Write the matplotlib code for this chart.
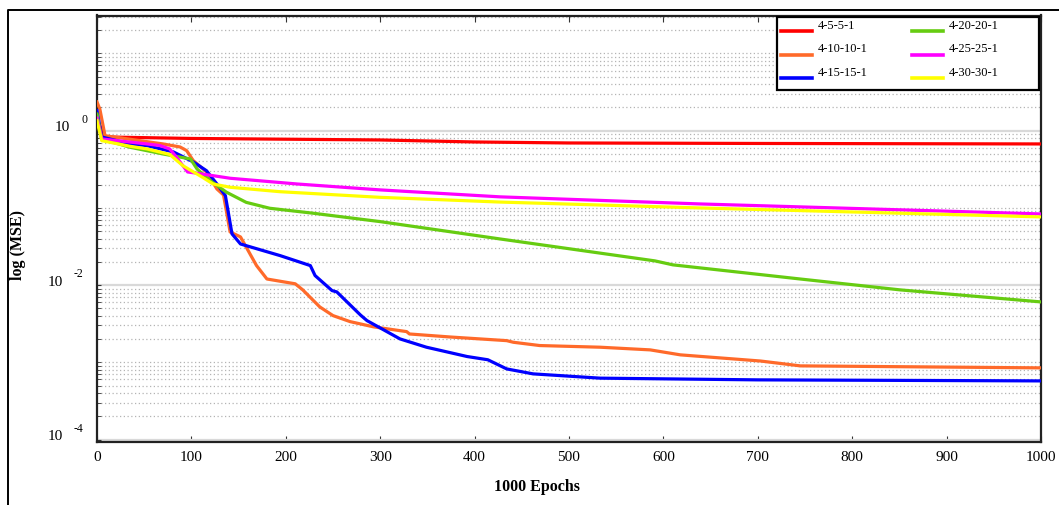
import matplotlib
matplotlib.use("Agg")
import matplotlib.pyplot as plt
from matplotlib.ticker import LogLocator, NullFormatter, MultipleLocator
from matplotlib.lines import Line2D
from matplotlib.patches import Rectangle
import numpy as np

# ---------------- data ----------------
labels = ["4-5-5-1", "4-10-10-1", "4-15-15-1", "4-20-20-1", "4-25-25-1", "4-30-30-1"]
colors = ["#ff0000", "#ff6a2a", "#0000ff", "#66cc11", "#ff00ff", "#ffff00"]

ep_551 = [0, 8, 100, 300, 400, 500, 700, 1000]
mse_551 = [1.42, 0.829, 0.793, 0.758, 0.714, 0.693, 0.683, 0.673]

ep_10101 = [0, 3, 8.5, 70, 88, 95, 102, 116, 127, 134, 141, 152, 169, 180, 210, 218,
            236, 250, 268, 293, 328, 331, 374, 434, 441, 469, 533, 586, 618, 703, 745, 1000]
mse_10101 = [2.35, 1.91, 0.861, 0.673, 0.615, 0.551, 0.409, 0.292, 0.176, 0.147, 0.0488,
             0.0421, 0.0179, 0.0120, 0.0104, 0.00867, 0.00522, 0.00403, 0.00337, 0.00288,
             0.00250, 0.00233, 0.00213, 0.00191, 0.00182, 0.00165, 0.00157, 0.00145,
             0.00125, 0.00104, 0.000900, 0.000848]

ep_15151 = [0, 5, 35, 53, 81, 102, 116, 127, 136, 139, 143, 152, 194, 226, 231, 249, 254,
            279, 286, 321, 349, 392, 414, 434, 462, 533, 700, 1000]
mse_15151 = [1.82, 0.829, 0.673, 0.640, 0.530, 0.394, 0.303, 0.204, 0.144, 0.0887, 0.0461,
             0.0341, 0.0241, 0.0179, 0.0133, 0.00849, 0.00817, 0.00411, 0.00347, 0.00201,
             0.00157, 0.00119, 0.00108, 0.000822, 0.000709, 0.000624, 0.000593, 0.000575]

ep_20201 = [0, 5, 35, 70, 99, 106, 120, 137, 158, 183, 229, 300, 427, 591, 610, 745, 851, 1000]
mse_20201 = [1.64, 0.781, 0.610, 0.499, 0.430, 0.319, 0.225, 0.160, 0.118, 0.0989, 0.0853,
             0.0664, 0.0396, 0.0206, 0.0183, 0.0120, 0.00867, 0.00606]

ep_25251 = [0, 5, 53, 67, 77, 84, 96, 106, 141, 212, 300, 427, 639, 1000]
mse_25251 = [1.45, 0.781, 0.673, 0.640, 0.580, 0.457, 0.292, 0.281, 0.242, 0.204, 0.171,
             0.139, 0.1125, 0.0835]

ep_30301 = [0, 5, 35, 53, 77, 91, 109, 123, 141, 194, 300, 427, 639, 1000]
mse_30301 = [1.35, 0.742, 0.628, 0.580, 0.492, 0.352, 0.261, 0.204, 0.185, 0.162, 0.137,
             0.119, 0.0998, 0.0764]

series = [(ep_551, mse_551), (ep_10101, mse_10101), (ep_15151, mse_15151),
          (ep_20201, mse_20201), (ep_25251, mse_25251), (ep_30301, mse_30301)]

xticks = list(range(0, 1001, 100))
ytick_exps = ["0", "-2", "-4"]
ytick_vals = [1.0, 1e-2, 1e-4]

# ---------------- figure ----------------
W, H = 1059, 506
fig = plt.figure(figsize=(W / 100, H / 100), dpi=100)
serif = ["Liberation Serif", "DejaVu Serif"]
plt.rcParams["font.family"] = serif

def fx(px):
    return px / W

def fy(py):
    return 1 - py / H

ax = fig.add_axes([fx(97), fy(443), fx(1041) - fx(97), fy(16.5) - fy(443)])

lines = []
for (ep, mse), c, lab in zip(series, colors, labels):
    ln, = ax.plot(ep, mse, color=c, lw=2.3, label=lab, solid_joinstyle="round", zorder=3)
    lines.append(ln)

ax.set_yscale("log")
ax.set_ylim(9.3e-5, 31)
ax.set_xlim(0, 1000)

ax.yaxis.set_major_locator(LogLocator(base=100.0, numticks=10))
ax.yaxis.set_minor_locator(LogLocator(base=10.0, subs=np.arange(1, 10), numticks=30))
ax.yaxis.set_major_formatter(NullFormatter())
ax.yaxis.set_minor_formatter(NullFormatter())
ax.grid(True, which="major", axis="y", color="#d9d9d9", lw=1.6, ls="-", zorder=1)
ax.grid(True, which="minor", axis="y", color="#b4b4b4", lw=0.9, ls=(0, (1, 2)), zorder=1)

ax.xaxis.set_major_locator(MultipleLocator(100))
ax.set_xticks(xticks)
ax.set_xticklabels([str(t) for t in xticks], fontsize=11, family=serif)
ax.tick_params(axis="x", which="major", direction="in", length=4, top=True, pad=6,
               color="#333333")
ax.tick_params(axis="y", which="both", direction="in", length=3, right=False,
               color="#333333")

for s in ax.spines.values():
    s.set_linewidth(1.6)
    s.set_color("#222222")

# y tick labels "10" with spaced superscript exponent
for v, e in zip(ytick_vals, ytick_exps):
    off = 0 if e == "0" else -7
    ax.annotate("10", xy=(0, v), xycoords=("axes fraction", "data"),
                xytext=(-34.5 + off, 4), textcoords="offset pixels",
                ha="center", va="center", fontsize=11, family=serif)
    ax.annotate(e, xy=(0, v), xycoords=("axes fraction", "data"),
                xytext=(-16 + off, 12), textcoords="offset pixels",
                ha="left", va="center", fontsize=8.5, family=serif)

fig.text(fx(18), fy(245), "log (MSE)", rotation=90, ha="center", va="center",
         fontsize=11.5, fontweight="bold", family=serif)
fig.text(fx(537), fy(487), "1000 Epochs", ha="center", va="center",
         fontsize=11.5, fontweight="bold", family=serif)

# legend box drawn by hand (two columns, text sits slightly above its line)
fig.add_artist(Rectangle((fx(777), fy(91)), fx(1039) - fx(777), fy(18) - fy(91),
                         transform=fig.transFigure, facecolor="white",
                         edgecolor="black", lw=1.6, zorder=5))
col_x = [781, 912]
row_y = [32.3, 55.7, 79.3]
for i, ln in enumerate(lines):
    cx = col_x[i // 3]
    ry = row_y[i % 3]
    fig.add_artist(Line2D([fx(cx), fx(cx + 31)], [fy(ry), fy(ry)],
                          color=ln.get_color(), lw=2.6, transform=fig.transFigure,
                          zorder=6))
    fig.text(fx(cx + 37), fy(ry - 6.5), ln.get_label(), ha="left", va="center",
             fontsize=9, family=serif, zorder=6)

# outer frame (left and top edges visible)
fig.add_artist(Line2D([fx(8), fx(8), 1.0], [0.0, fy(11), fy(11)],
                      color="black", lw=1.4, transform=fig.transFigure))

fig.savefig("out.png", dpi=100)
